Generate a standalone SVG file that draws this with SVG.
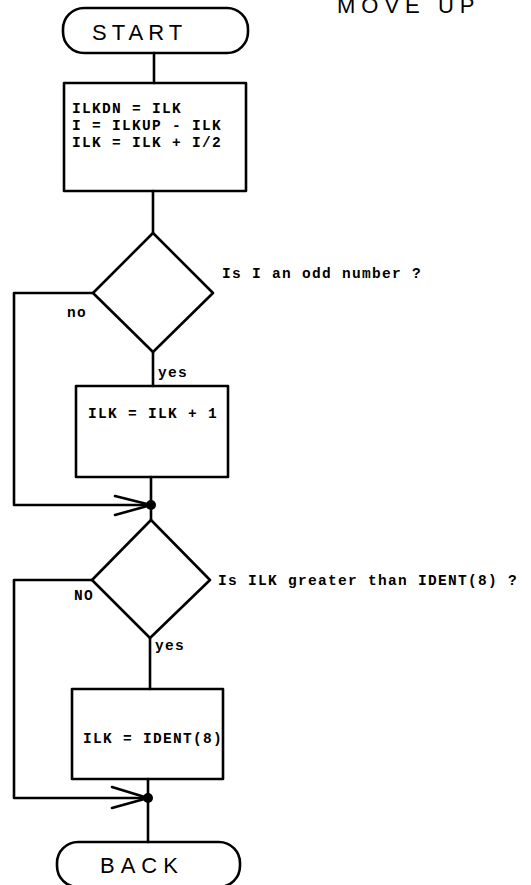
<svg xmlns="http://www.w3.org/2000/svg" width="531" height="885" viewBox="0 0 531 885">
<style>
.s{fill:none;stroke:#000;stroke-width:2.6;stroke-linejoin:round;stroke-linecap:round}
.t{font-family:"Liberation Mono",monospace;font-weight:bold;font-size:14.5px;letter-spacing:1.3px;fill:#000}
.h{font-family:"Liberation Sans",Arial,sans-serif;font-size:22px;fill:#000;letter-spacing:6px}
</style>
<rect width="531" height="885" fill="#fff"/>
<text class="h" x="337" y="13">MOVE UP</text>
<g id="start">
<rect class="s" x="63" y="8" width="185" height="45" rx="21"/>
<text class="h" x="92" y="40" style="letter-spacing:5px">START</text>
</g>
<g id="box1">
<rect class="s" x="64" y="83" width="182" height="108"/>
<text class="t" x="72" y="113">ILKDN = ILK</text>
<text class="t" x="72" y="130">I = ILKUP - ILK</text>
<text class="t" x="72" y="147">ILK = ILK + I/2</text>
</g>
<g id="dec1">
<polygon class="s" points="153,233 213,293 153,352 93,293"/>
<text class="t" x="222" y="278">Is I an odd number ?</text>
</g>
<g id="box2">
<rect class="s" x="76" y="386" width="152" height="91"/>
<text class="t" x="88" y="418">ILK = ILK + 1</text>
</g>
<g id="dec2">
<polygon class="s" points="151,520 210,580 150,638 92,580"/>
<text class="t" x="218" y="585">Is ILK greater than IDENT(8) ?</text>
</g>
<g id="box3">
<rect class="s" x="72" y="689" width="151" height="90"/>
<text class="t" x="83" y="743">ILK = IDENT(8)</text>
</g>
<g id="back">
<rect class="s" x="57" y="842" width="183" height="45" rx="21"/>
<text class="h" x="100" y="873">BACK</text>
</g>
<g id="connectors">
<path class="s" d="M154,53 V83"/>
<path class="s" d="M153,191 V233"/>
<path class="s" d="M153,352 V386"/>
<path class="s" d="M151,477 V520"/>
<path class="s" d="M93,293 H14 V505 H151"/>
<path class="s" d="M115,496 L151,505 L115,515"/>
<circle cx="151" cy="505" r="5" fill="#000"/>
<path class="s" d="M150,638 V689"/>
<path class="s" d="M148,779 V842"/>
<path class="s" d="M92,580 H14 V798 H148"/>
<path class="s" d="M112,787 L148,798 L112,808"/>
<circle cx="148" cy="798" r="5" fill="#000"/>
<text class="t" x="67" y="317">no</text>
<text class="t" x="158" y="377">yes</text>
<text class="t" x="74" y="600">NO</text>
<text class="t" x="155" y="650">yes</text>
</g>
</svg>
